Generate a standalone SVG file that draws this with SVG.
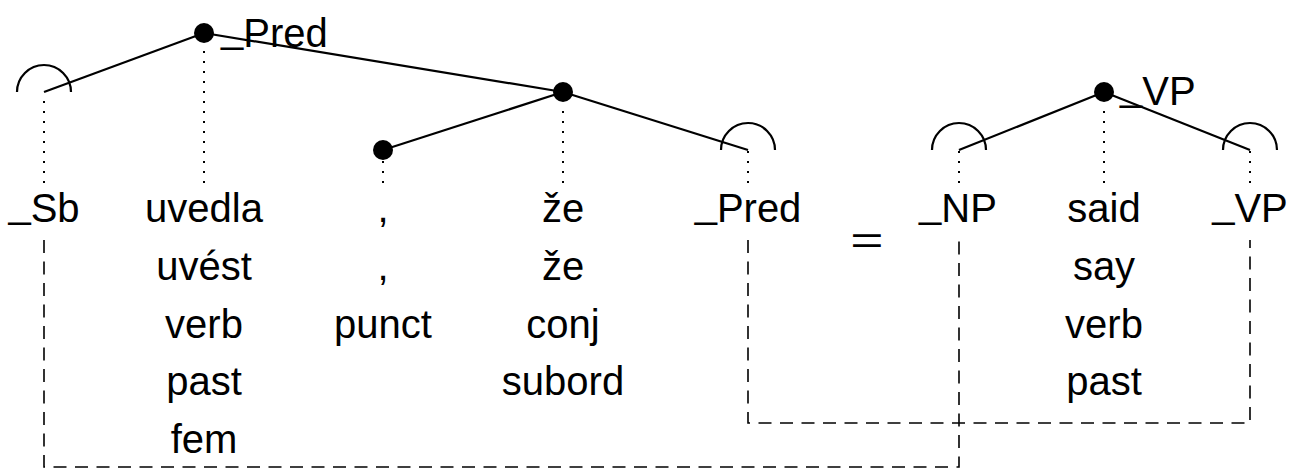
<svg xmlns="http://www.w3.org/2000/svg" width="1290" height="470" viewBox="0 0 1290 470">
<style>
text{font-family:"Liberation Sans",Arial,sans-serif;font-size:40px;fill:#000}
.c{text-anchor:middle}
.edge{stroke:#000;stroke-width:2.2;fill:none}
.dot{stroke:#000;stroke-width:2;stroke-dasharray:2 8;fill:none}
.dash{stroke:#000;stroke-width:1.6;stroke-dasharray:13 8.5;fill:none}
.arc{stroke:#000;stroke-width:2.2;fill:none}
.node{fill:#000}
</style>
<rect width="1290" height="470" fill="#fff"/>
<g id="connectors">
<line class="edge" x1="204" y1="33" x2="44" y2="92"/>
<line class="edge" x1="204" y1="33" x2="563" y2="92"/>
<line class="edge" x1="563" y1="92" x2="383" y2="150"/>
<line class="edge" x1="563" y1="92" x2="748" y2="150"/>
<line class="edge" x1="1104" y1="92" x2="959" y2="150"/>
<line class="edge" x1="1104" y1="92" x2="1250" y2="150"/>
<line class="dot" x1="44" y1="101" x2="44" y2="183"/>
<line class="dot" x1="204" y1="51" x2="204" y2="183"/>
<line class="dot" x1="383" y1="161" x2="383" y2="183"/>
<line class="dot" x1="563" y1="111" x2="563" y2="183"/>
<line class="dot" x1="748" y1="151" x2="748" y2="183"/>
<line class="dot" x1="959" y1="151" x2="959" y2="183"/>
<line class="dot" x1="1104" y1="111" x2="1104" y2="183"/>
<line class="dot" x1="1250" y1="151" x2="1250" y2="183"/>
<path class="dash" d="M44 240 V467 H959 V240"/>
<path class="dash" d="M748 240 V423 H1250 V240"/>
</g>
<g id="n-pred-root"><circle class="node" cx="204" cy="33" r="10"/><text x="221" y="47"><tspan dy="-5">_</tspan><tspan dy="5">Pred</tspan></text></g>
<g id="n-sb"><path class="arc" d="M17 92 A27 27 0 0 1 71 92"/><text class="c" x="44" y="222"><tspan dy="-5">_</tspan><tspan dy="5">Sb</tspan></text></g>
<g id="n-uvedla"><text class="c" x="204" y="222">uvedla</text><text class="c" x="204" y="280">uvést</text><text class="c" x="204" y="338">verb</text><text class="c" x="204" y="395">past</text><text class="c" x="204" y="453">fem</text></g>
<g id="n-comma"><circle class="node" cx="383" cy="150" r="10"/><text class="c" x="383" y="222">,</text><text class="c" x="383" y="280">,</text><text class="c" x="383" y="338">punct</text></g>
<g id="n-ze"><circle class="node" cx="563" cy="92" r="10"/><text class="c" x="563" y="222">že</text><text class="c" x="563" y="280">že</text><text class="c" x="563" y="338">conj</text><text class="c" x="563" y="395">subord</text></g>
<g id="n-pred"><path class="arc" d="M721 150 A27 27 0 0 1 775 150"/><text class="c" x="748" y="222"><tspan dy="-5">_</tspan><tspan dy="5">Pred</tspan></text></g>
<g id="eq"><text class="c" x="0" y="254" transform="translate(867 0) scale(1.5 1)" style="font-size:38px">=</text></g>
<g id="n-vp-root"><circle class="node" cx="1104" cy="92" r="10"/><text x="1120" y="105"><tspan dy="-5">_</tspan><tspan dy="5">VP</tspan></text></g>
<g id="n-np"><path class="arc" d="M932 150 A27 27 0 0 1 986 150"/><text class="c" x="958" y="222"><tspan dy="-5">_</tspan><tspan dy="5">NP</tspan></text></g>
<g id="n-said"><text class="c" x="1104" y="222">said</text><text class="c" x="1104" y="280">say</text><text class="c" x="1104" y="338">verb</text><text class="c" x="1104" y="395">past</text></g>
<g id="n-vp"><path class="arc" d="M1223 150 A27 27 0 0 1 1277 150"/><text class="c" x="1250" y="222"><tspan dy="-5">_</tspan><tspan dy="5">VP</tspan></text></g>
</svg>
